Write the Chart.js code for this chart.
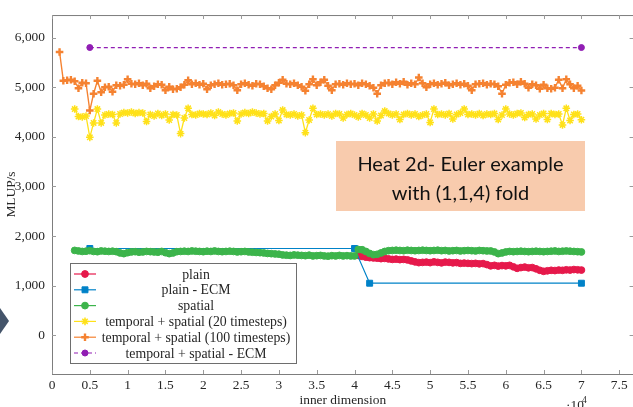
<!DOCTYPE html>
<html>
<head>
<meta charset="utf-8">
<script src="https://cdn.jsdelivr.net/npm/chart.js@4.4.1/dist/chart.umd.min.js"></script>
<style>
  html, body { margin: 0; padding: 0; background: #fff; overflow: hidden; }
  #wrap { width: 640px; height: 407px; }
</style>
</head>
<body>
<div id="wrap"><canvas id="chart" width="640" height="407"></canvas></div>
<script>
// axis ticks
const X_TICKS = [0, 5000, 10000, 15000, 20000, 25000, 30000, 35000, 40000, 45000, 50000, 55000, 60000, 65000, 70000, 75000];
const Y_TICKS = [0, 1000, 2000, 3000, 4000, 5000, 6000];

// measurement grids (inner dimension, every 500)
function grid(from, to, step) {
  const out = [];
  for (let v = from; v <= to; v += step) out.push(v);
  return out;
}
const X_ORANGE = grid(1000, 70000, 500);
const X_YELLOW = grid(3000, 70000, 500);
const X_SPATIAL = grid(3000, 70000, 500);
const X_PLAIN = grid(40500, 70000, 500);

// MLUP/s values
const PLAIN = [
  1610,1590,1575,1565,1560,1555,1545,1550,1540,1530,
  1535,1525,1530,1520,1500,1480,1465,1470,1475,1465,
  1480,1470,1460,1475,1470,1460,1465,1450,1455,1450,
  1445,1450,1440,1445,1425,1400,1410,1395,1405,1400,
  1410,1380,1350,1365,1375,1360,1365,1340,1310,1290,
  1300,1310,1305,1315,1310,1320,1315,1325,1320,1315
];

const ECM_X = [5000, 40000, 42000, 70000];
const ECM = [1750, 1750, 1050, 1050];

const SPATIAL = [
  1711,1700,1690,1695,1705,1690,1685,1700,1695,1690,
  1695,1685,1660,1646,1665,1680,1685,1675,1680,1690,
  1685,1680,1675,1690,1665,1646,1660,1685,1690,1695,
  1690,1700,1695,1690,1685,1695,1690,1700,1690,1685,
  1690,1695,1690,1680,1685,1690,1680,1675,1670,1665,
  1660,1650,1645,1640,1635,1620,1615,1610,1620,1615,
  1610,1605,1615,1600,1605,1610,1600,1595,1605,1600,
  1610,1600,1605,1600,1600,1730,1725,1690,1650,1625,
  1633,1660,1690,1705,1710,1715,1710,1705,1715,1710,
  1705,1710,1715,1710,1705,1710,1715,1705,1710,1700,
  1705,1710,1700,1705,1710,1705,1700,1710,1705,1700,
  1700,1680,1646,1660,1680,1690,1685,1690,1695,1690,
  1685,1690,1695,1690,1685,1690,1695,1700,1690,1695,
  1700,1695,1690,1685,1680
];

const TS20 = [
  4560,4410,4400,4420,3990,4280,4560,4280,4440,4460,
  4450,4280,4460,4490,4480,4500,4470,4490,4480,4310,
  4450,4420,4470,4430,4460,4340,4450,4440,4065,4380,
  4575,4450,4440,4470,4460,4450,4480,4430,4500,4460,
  4440,4470,4480,4320,4460,4490,4470,4500,4480,4460,
  4470,4320,4410,4460,4330,4540,4450,4440,4460,4420,
  4440,4085,4340,4575,4450,4460,4440,4460,4420,4470,
  4460,4380,4450,4470,4440,4400,4470,4440,4380,4460,
  4320,4430,4520,4470,4440,4460,4350,4450,4470,4440,
  4460,4410,4440,4460,4290,4560,4450,4460,4440,4470,
  4360,4450,4480,4560,4450,4460,4440,4470,4430,4460,
  4450,4470,4350,4440,4560,4460,4440,4470,4480,4390,
  4450,4460,4360,4440,4470,4350,4470,4450,4460,4240,
  4575,4330,4450,4460,4345
];

const TS100 = [
  5710,5130,5140,5150,5120,4980,5090,5080,4530,4870,
  5130,4900,5000,5010,4910,5040,5030,5050,5160,5070,
  5060,5080,5040,5070,4980,5020,5060,5050,4940,5010,
  4960,4970,5000,5050,5140,5060,5080,5050,5070,4960,
  5040,5060,5080,5050,5060,5070,5040,4940,5060,5080,
  5050,5030,5070,5060,5020,4980,4960,5040,5090,5150,
  5070,5060,5080,5040,5010,4930,5060,5160,5040,5100,
  5150,5030,4940,5060,5070,5050,5080,5060,5070,5040,
  5080,5060,5030,4990,4870,5040,5080,5090,5060,5100,
  5070,5110,5050,5080,5060,5195,5080,5000,5060,5080,
  5050,5070,5090,5040,5060,5080,5050,5070,5030,4940,
  5060,5070,5080,5050,5070,5060,5020,4870,5050,5090,
  5100,5060,5110,5070,4990,5060,5040,4970,5050,4980,
  4970,4990,5150,4980,5160,5060,4980,5030,4935
];

const TS_ECM_X = [5000, 70000];
const TS_ECM = [5800, 5800];

const SERIF = "'Liberation Serif', 'DejaVu Serif', serif";
const TEXT = '#262626';
const FRAME = '#7d7d7d';

function pts(xs, ys) {
  return xs.map((x, i) => ({ x: x, y: ys[i] }));
}

function series(label, xs, ys, color, extra) {
  return Object.assign({
    label: label,
    data: pts(xs, ys),
    borderColor: color,
    backgroundColor: color,
    pointBackgroundColor: color,
    pointBorderColor: color,
    borderWidth: 1.2,
    pointRadius: 3,
    pointBorderWidth: 1,
    tension: 0,
  }, extra);
}

const datasets = [
  series('plain', X_PLAIN, PLAIN, '#e6194b', { pointStyle: 'circle', pointRadius: 3.4, order: 6 }),
  series('plain - ECM', ECM_X, ECM, '#0082c8', { pointStyle: 'rect', pointRadius: 4.2, order: 5 }),
  series('spatial', X_SPATIAL, SPATIAL, '#3cb44b', { pointStyle: 'circle', pointRadius: 3.4, order: 4 }),
  series('temporal + spatial (20 timesteps)', X_YELLOW, TS20, '#ffe119', { pointStyle: 'star', pointRadius: 3.8, pointBorderWidth: 1.5, borderWidth: 1.3, order: 3 }),
  series('temporal + spatial (100 timesteps)', X_ORANGE, TS100, '#f58231', { pointStyle: 'cross', pointRadius: 3.8, pointBorderWidth: 2.4, borderWidth: 1.4, order: 2 }),
  series('temporal + spatial - ECM', TS_ECM_X, TS_ECM, '#911eb4', { pointStyle: 'circle', pointRadius: 3, borderDash: [4, 3], order: 1 }),
];

// frame, inner ticks, legend box, note and the slide arrow
const decor = {
  id: 'decor',
  afterDraw(chart) {
    const { ctx, chartArea: a, scales: { x, y } } = chart;
    ctx.save();

    ctx.strokeStyle = FRAME;
    ctx.lineWidth = 1;
    ctx.strokeRect(a.left + 0.5, a.top + 0.5, a.right - a.left, a.bottom - a.top);

    ctx.strokeStyle = '#9a9a9a';
    ctx.beginPath();
    X_TICKS.forEach(v => {
      const px = Math.round(x.getPixelForValue(v)) + 0.5;
      ctx.moveTo(px, a.bottom); ctx.lineTo(px, a.bottom - 4);
      ctx.moveTo(px, a.top); ctx.lineTo(px, a.top + 4);
    });
    Y_TICKS.forEach(v => {
      const py = Math.round(y.getPixelForValue(v)) + 0.5;
      ctx.moveTo(a.left, py); ctx.lineTo(a.left + 4, py);
      ctx.moveTo(a.right, py); ctx.lineTo(a.right - 4, py);
    });
    ctx.stroke();

    // legend
    const lx = 70, ly = 263, lw = 226, lh = 100, row = 15.8;
    ctx.fillStyle = '#fff';
    ctx.fillRect(lx, ly, lw, lh);
    ctx.strokeStyle = '#6e6e6e';
    ctx.strokeRect(lx + 0.5, ly + 0.5, lw, lh);
    ctx.font = '13.8px ' + SERIF;
    ctx.textAlign = 'center';
    ctx.textBaseline = 'middle';
    chart.data.datasets.forEach((ds, i) => {
      const cy = ly + 11 + i * row;
      ctx.strokeStyle = ds.borderColor;
      ctx.lineWidth = 1.2;
      ctx.setLineDash(ds.borderDash || []);
      ctx.beginPath();
      ctx.moveTo(lx + 4, cy); ctx.lineTo(lx + 26, cy);
      ctx.stroke();
      ctx.setLineDash([]);
      ctx.fillStyle = ds.borderColor;
      ctx.lineWidth = ds.pointBorderWidth;
      Chart.helpers.drawPoint(ctx, {
        pointStyle: ds.pointStyle, radius: ds.pointRadius, rotation: 0, borderWidth: ds.pointBorderWidth
      }, lx + 15, cy);
      ctx.fillStyle = TEXT;
      ctx.fillText(ds.label, lx + 126, cy + 1);
    });

    // note box
    ctx.fillStyle = '#f8cbad';
    ctx.fillRect(336, 141, 249, 70);
    ctx.fillStyle = '#111';
    ctx.font = '20px Lato, "Open Sans", sans-serif';
    ctx.textAlign = 'center';
    ctx.textBaseline = 'alphabetic';
    ctx.fillText('Heat 2d- Euler example', 460.5, 171);
    ctx.fillText('with (1,1,4) fold', 460.5, 200);

    // x multiplier
    ctx.fillStyle = TEXT;
    ctx.textAlign = 'left';
    ctx.font = '13.4px ' + SERIF;
    ctx.fillText('\u00b710', 566, 409);
    ctx.font = '9.5px ' + SERIF;
    ctx.fillText('4', 582, 403);

    // slide arrow at left edge
    ctx.fillStyle = '#44546a';
    ctx.beginPath();
    ctx.moveTo(0, 308); ctx.lineTo(9, 321); ctx.lineTo(0, 334);
    ctx.closePath();
    ctx.fill();

    ctx.restore();
  }
};

new Chart(document.getElementById('chart'), {
  type: 'line',
  data: { datasets: datasets },
  options: {
    responsive: false,
    animation: false,
    layout: { padding: { top: 4, right: 5, left: 0, bottom: 0 } },
    plugins: { legend: { display: false }, tooltip: { enabled: false } },
    scales: {
      x: {
        type: 'linear',
        min: 0,
        max: 76900,
        afterBuildTicks: s => { s.ticks = X_TICKS.map(v => ({ value: v })); },
        afterFit: s => { s.height = 33; },
        grid: { display: false, drawTicks: false },
        border: { display: false },
        ticks: {
          padding: 3, color: TEXT, maxRotation: 0, autoSkip: false,
          font: { family: SERIF, size: 13.4 },
          callback: v => String(v / 10000)
        },
        title: {
          display: true, text: 'inner dimension', color: TEXT,
          font: { family: SERIF, size: 13.4 }, padding: { top: 0, bottom: -2 }
        }
      },
      y: {
        type: 'linear',
        min: -780,
        max: 6455,
        afterBuildTicks: s => { s.ticks = Y_TICKS.map(v => ({ value: v })); },
        afterFit: s => { s.width = 52; },
        grid: { display: false, drawTicks: false },
        border: { display: false },
        ticks: {
          padding: 7, color: TEXT,
          font: { family: SERIF, size: 13.4 },
          callback: v => v.toLocaleString('en-US')
        },
        title: {
          display: true, text: 'MLUP/s', color: TEXT,
          font: { family: SERIF, size: 13.4 }, padding: { top: 3, bottom: 0 }
        }
      }
    }
  },
  plugins: [decor]
});
</script>
</body>
</html>
